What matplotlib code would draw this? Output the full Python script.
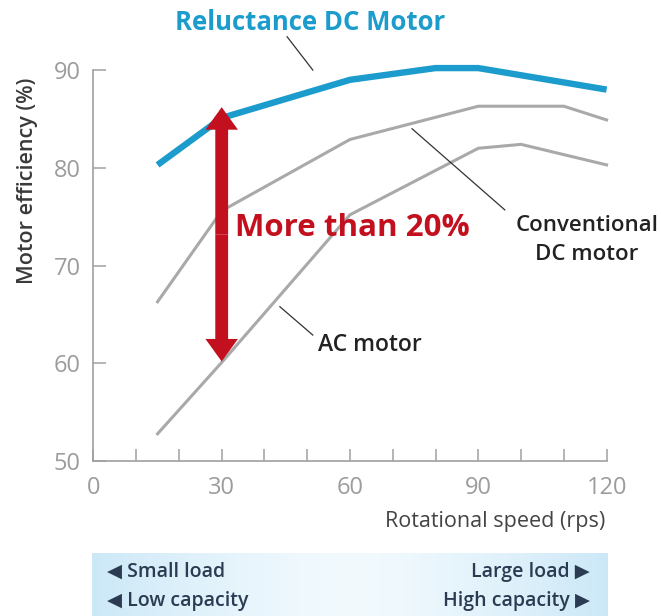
import numpy as np
import matplotlib
matplotlib.use("Agg")
import matplotlib.pyplot as plt
from matplotlib.patches import FancyArrow

plt.rcParams['font.family'] = ['Open Sans', 'DejaVu Sans']

# Efficiency curves (rotational speed in rps, efficiency in %)
rel_speed = [15, 30, 60, 80, 90, 120]
rel_eff = [80.3, 85.1, 89.0, 90.2, 90.2, 88.0]

conv_speed = [15, 30, 60, 90, 110, 120]
conv_eff = [66.3, 75.6, 82.9, 86.3, 86.3, 84.9]

ac_speed = [15, 30, 60, 90, 100, 120]
ac_eff = [52.8, 60.1, 75.2, 82.0, 82.4, 80.3]

# Improvement arrow at 30 rps
gap_speed = 30
gap_low, gap_high = 60.2, 86.2

x_ticks = list(range(0, 121, 10))
x_ticklabels = ['0', '', '', '30', '', '', '60', '', '', '90', '', '', '120']
y_ticks = [50, 60, 70, 80, 90]

BLUE = '#1b9ccc'
RED = '#c3101e'
GRAY = '#a9a9a9'
AXIS = '#a0a0a0'
INK = '#222222'
NAVY = '#2a3b52'

fig = plt.figure(figsize=(6.61, 6.16), dpi=100)
ax = fig.add_axes([0.1413, 0.2513, 0.7764, 0.635])
ax.set_xlim(0, 120)
ax.set_ylim(50, 90)

for s in ('top', 'right'):
    ax.spines[s].set_visible(False)
for s in ('left', 'bottom'):
    ax.spines[s].set_color(AXIS)
    ax.spines[s].set_linewidth(1.2)

ax.set_xticks(x_ticks)
ax.set_xticklabels(x_ticklabels)
ax.set_yticks(y_ticks)
ax.tick_params(axis='x', direction='in', length=8.5, width=1.1, color=AXIS,
               pad=11, labelsize=17, labelcolor='#9c9c9c')
ax.tick_params(axis='y', direction='in', length=9, width=1.1, color=AXIS,
               pad=9, labelsize=17, labelcolor='#9c9c9c')

ax.plot(ac_speed, ac_eff, color=GRAY, lw=2.2, clip_on=False, solid_joinstyle='miter')
ax.plot(conv_speed, conv_eff, color=GRAY, lw=2.2, clip_on=False, solid_joinstyle='miter')
ax.plot(rel_speed, rel_eff, color=BLUE, lw=4.6, clip_on=False, solid_capstyle='butt')

# Double-headed red arrow built from two arrows meeting in the middle
mid = (gap_low + gap_high) / 2
for tip in (gap_high, gap_low):
    ax.add_patch(FancyArrow(gap_speed, mid, 0, tip - mid, width=3.0,
                            head_width=7.6, head_length=2.3,
                            length_includes_head=True, color=RED, lw=0,
                            zorder=5, clip_on=False))

# Leader lines
ax.plot([45.3, 51.3], [93.4, 90.0], color='#333333', lw=0.9, clip_on=False)
ax.plot([74.5, 96.2], [84.0, 75.7], color='#333333', lw=0.9, clip_on=False)
ax.plot([43.6, 51.3], [65.8, 62.9], color='#333333', lw=0.9, clip_on=False)

ax.text(19.1, 94.9, 'Reluctance DC Motor', color=BLUE, fontsize=18.5,
        fontweight='bold', ha='left', va='center', clip_on=False)
ax.text(33.1, 73.8, 'More than 20%', color=RED, fontsize=22.5,
        fontweight='bold', ha='left', va='center', clip_on=False)
ax.text(115.4, 72.6, 'Conventional\nDC motor', color=INK, fontsize=16,
        fontweight='semibold', ha='center', va='center', linespacing=1.5,
        clip_on=False)
ax.text(52.5, 61.9, 'AC motor', color=INK, fontsize=16.5,
        fontweight='semibold', ha='left', va='center', clip_on=False)

fig.text(28 / 661, 1 - 181 / 616, 'Motor efficiency (%)', rotation=90,
         ha='center', va='center', fontsize=15.5, fontweight='semibold',
         color='#3a3a3a')
fig.text(605 / 661, 1 - 522 / 616, 'Rotational speed (rps)', ha='right',
         va='center', fontsize=15.5, color='#444444')

# Load / capacity band with a soft horizontal gradient
band = fig.add_axes([92 / 661, 0, 516 / 661, 63 / 616])
band.set_axis_off()
t = np.linspace(0, 1, 256)
edge = np.array([0.80, 0.91, 0.97])
centre = np.array([0.95, 0.98, 0.995])
w = np.abs(2 * t - 1) ** 1.4
grad = (centre[None, :] * (1 - w[:, None]) + edge[None, :] * w[:, None])
band.imshow(grad[None, :, :], aspect='auto', extent=(0, 1, 0, 1))
band.set_xlim(0, 1)
band.set_ylim(0, 1)
band.text(0.03, 0.70, '◀ Small load', color=NAVY, fontsize=14,
          fontweight='semibold', ha='left', va='center')
band.text(0.03, 0.24, '◀ Low capacity', color=NAVY, fontsize=14,
          fontweight='semibold', ha='left', va='center')
band.text(0.965, 0.70, 'Large load ▶', color=NAVY, fontsize=14,
          fontweight='semibold', ha='right', va='center')
band.text(0.965, 0.24, 'High capacity ▶', color=NAVY, fontsize=14,
          fontweight='semibold', ha='right', va='center')

fig.savefig('out.png', dpi=100)
